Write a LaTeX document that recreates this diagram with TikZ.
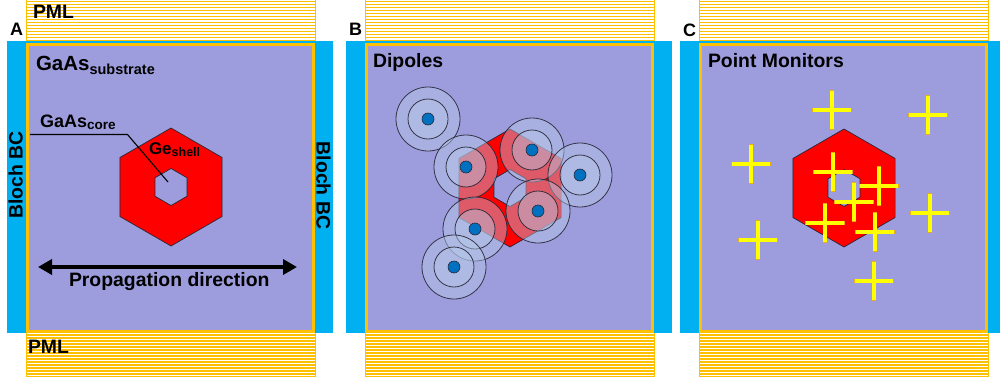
\documentclass[tikz,border=0pt]{standalone}
\usepackage{fontspec}
\setmainfont{Liberation Sans}
\usetikzlibrary{arrows.meta,calc}

\definecolor{bcblue}{RGB}{0,176,240}
\definecolor{substrate}{RGB}{157,157,221}
\definecolor{pmlorange}{RGB}{255,192,0}
\definecolor{shellred}{RGB}{255,0,0}
\definecolor{dipoleblue}{RGB}{0,112,192}
\definecolor{haloblue}{RGB}{182,200,232}
\definecolor{monyellow}{RGB}{255,255,0}
\definecolor{monedge}{RGB}{238,170,20}
\definecolor{edgegray}{RGB}{40,40,55}

\tikzset{
  txt/.style={inner sep=0pt, outer sep=0pt, text=black, font=\fontsize{19.4}{22}\selectfont\bfseries},
  lbl/.style={txt, anchor=base west},
  panelletter/.style={txt, anchor=base west, font=\fontsize{18}{21}\selectfont\bfseries},
  pmlline/.style={draw=pmlorange, line width=1.6pt},
  pmledge/.style={draw=pmlorange, line width=0.9pt},
  border/.style={draw=pmlorange, line width=3.3pt},
  shell/.style={fill=shellred, draw=edgegray, line width=0.7pt, even odd rule},
  halo/.style={fill=haloblue, fill opacity=0.45, draw=edgegray, draw opacity=0.9, line width=0.8pt},
  dipdot/.style={fill=dipoleblue, draw=edgegray, line width=0.6pt},
  crossedge/.style={draw=monedge, line width=4.8pt},
  crossfill/.style={draw=monyellow, line width=3.1pt},
  leader/.style={draw=black, line width=1.1pt},
  bigarrow/.style={draw=black, line width=3.8pt,
    {Triangle[length=14pt,width=15pt]}-{Triangle[length=14pt,width=15pt]}}
}

% simulation cell: Bloch boundaries, PML layers, substrate with border
\newcommand\simframe[1]{%
  \begin{scope}[xshift=#1pt]
    \fill[bcblue] (7,41) rectangle (333,333);
    \foreach \k in {0,...,13} {
      \draw[pmlline] (26,1.3+3*\k) -- (315,1.3+3*\k);
      \draw[pmlline] (26,335+3*\k) -- (315,335+3*\k);
    }
    \draw[pmledge] (26,0) -- (26,41) (315,0) -- (315,41);
    \draw[pmledge] (26,333) -- (26,376) -- (315,376) -- (315,333);
    \fill[substrate] (26,43) rectangle (315,333);
    \draw[border] (27.65,44.65) rectangle (313.35,331.35);
  \end{scope}}

% core-shell hexagon: outer and inner outlines with the core left open
\newcommand\shellhex[1]{%
  \path[shell]
    ($(#1)+(30:59)$) -- ($(#1)+(90:59)$) -- ($(#1)+(150:59)$) --
    ($(#1)+(210:59)$) -- ($(#1)+(270:59)$) -- ($(#1)+(330:59)$) -- cycle
    ($(#1)+(30:18.5)$) -- ($(#1)+(90:18.5)$) -- ($(#1)+(150:18.5)$) --
    ($(#1)+(210:18.5)$) -- ($(#1)+(270:18.5)$) -- ($(#1)+(330:18.5)$) -- cycle;}

% dipole source: two translucent halos and the dipole itself
\newcommand\dipole[2]{%
  \coordinate (#1) at #2;
  \path[halo] (#1) circle[radius=32pt];
  \path[halo] (#1) circle[radius=20pt];
  \path[dipdot] (#1) circle[radius=6pt];}

% point monitor cross
\newcommand\monitor[2]{%
  \coordinate (#1) at #2;
  \path[crossedge] ([xshift=-19.6pt]#1) -- ([xshift=19.6pt]#1)
                   ([yshift=-19.6pt]#1) -- ([yshift=19.6pt]#1);
  \path[crossfill] ([xshift=-18.8pt]#1) -- ([xshift=18.8pt]#1)
                   ([yshift=-18.8pt]#1) -- ([yshift=18.8pt]#1);}

\begin{document}
\begin{tikzpicture}[x=1pt,y=-1pt]
\clip (0,0) rectangle (1000,380);
\fill[white] (0,0) rectangle (1000,380);

% ---------------- panel A: geometry ----------------
\simframe{0}
\coordinate (hexA) at (171,187);
\shellhex{hexA}

\node[panelletter] (letA) at (10,35) {A};
\node[lbl] (pmlTop) at (33,18.5) {PML};
\node[lbl] (pmlBot) at (28,353.5) {PML};
\node[lbl] (substrateLbl) at (36,70)
  {\fontsize{20.5}{24}\selectfont GaAs\raisebox{-4pt}{\fontsize{14.5}{16}\selectfont substrate}};
\node[lbl] (coreLbl) at (40,127)
  {\fontsize{18}{21}\selectfont GaAs\raisebox{-2.8pt}{\fontsize{13.5}{16}\selectfont core}};
\node[lbl] (shellLbl) at (149,154)
  {\fontsize{17}{20}\selectfont Ge\raisebox{-2.8pt}{\fontsize{12.5}{15}\selectfont shell}};
\node[txt, rotate=90, anchor=base] (blochL) at (22.5,175) {Bloch BC};
\node[txt, rotate=-90, anchor=base] (blochR) at (316.5,185.5) {Bloch BC};

\coordinate (leadStart) at (30,134.5);
\coordinate (leadBend) at (127.5,134.5);
\coordinate (leadEnd) at (168,182);
\draw[leader] (leadStart) -- (leadBend) -- (leadEnd);

\coordinate (propL) at (38,267);
\coordinate (propR) at (297,267);
\draw[bigarrow] (propL) -- (propR);
\node[lbl] (propLbl) at (69,286) {Propagation direction};

% ---------------- panel B: dipole sources ----------------
\simframe{339}
\coordinate (hexB) at (510,188);
\shellhex{hexB}
\node[panelletter] (letB) at (349,35) {B};
\node[lbl] (dipLbl) at (373,67) {Dipoles};

\dipole{d1}{(428,119)}
\dipole{d2}{(466,167)}
\dipole{d3}{(532,150)}
\dipole{d4}{(580,175)}
\dipole{d5}{(538,211)}
\dipole{d6}{(475,229)}
\dipole{d7}{(454,267)}

% ---------------- panel C: point monitors ----------------
\simframe{673}
\coordinate (hexC) at (844,188);
\shellhex{hexC}
\node[panelletter] (letC) at (683,36) {C};
\node[lbl] (monLbl) at (708,67) {Point Monitors};

\monitor{m1}{(832,110)}
\monitor{m2}{(928,115)}
\monitor{m3}{(751,164)}
\monitor{m4}{(833,172)}
\monitor{m5}{(879,186)}
\monitor{m6}{(854,202)}
\monitor{m7}{(930,213)}
\monitor{m8}{(825,223)}
\monitor{m9}{(875,232)}
\monitor{m10}{(758,240)}
\monitor{m11}{(874,281)}
\end{tikzpicture}
\end{document}
